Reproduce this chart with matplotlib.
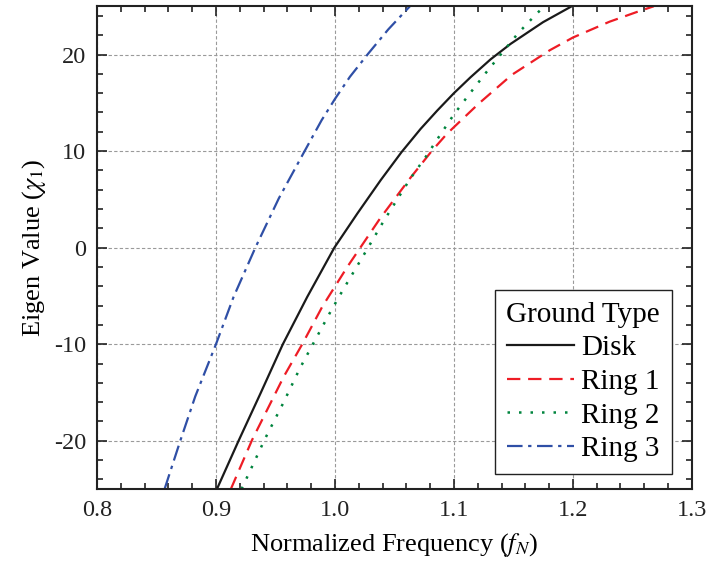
import matplotlib.pyplot as plt
from matplotlib.ticker import MultipleLocator

plt.rcParams['font.family'] = ['Liberation Serif', 'DejaVu Serif']
plt.rcParams['mathtext.fontset'] = 'stix'
plt.rcParams['axes.unicode_minus'] = False

# Valores (frequência normalizada, autovalor)
disk_f = [0.9008, 0.919, 0.9374, 0.9562, 0.9767, 0.9995, 1.0189, 1.0385, 1.056,
          1.072, 1.086, 1.100, 1.114, 1.1308, 1.1476, 1.1749, 1.199]
disk_x = [-25.0, -20.0, -15.1, -10.0, -5.1, 0.0, 3.55, 7.0, 9.9,
          12.3, 14.2, 16.0, 17.65, 19.5, 21.1, 23.35, 25.0]

ring1_f = [0.9125, 0.9304, 0.957, 0.9725, 0.9894, 1.0105, 1.038, 1.0631, 1.0813,
           1.0942, 1.1207, 1.1487, 1.1805, 1.200, 1.2308, 1.2536, 1.268]
ring1_x = [-25.0, -19.9, -13.35, -10.0, -6.1, -1.97, 3.04, 7.18, 10.0,
           11.8, 14.9, 17.9, 20.44, 21.76, 23.4, 24.4, 25.0]

ring2_f = [0.9215, 0.9416, 0.9565, 0.9705, 0.981, 0.9964, 1.0071, 1.024, 1.0407, 1.052,
           1.0634, 1.0763, 1.0883, 1.100, 1.1134, 1.1268, 1.140, 1.1539, 1.1693, 1.176]
ring2_x = [-25.0, -19.7, -16.1, -12.5, -10.1, -6.6, -4.3, -0.8, 2.7, 4.93,
           7.16, 9.4, 11.65, 13.8, 15.97, 18.1, 20.1, 22.2, 24.2, 25.0]

ring3_f = [0.8568, 0.870, 0.8826, 0.900, 0.9148, 0.9331, 0.9528, 0.9745, 0.9888,
           1.000, 1.0126, 1.028, 1.0448, 1.063]
ring3_x = [-25.0, -20.0, -15.4, -10.0, -5.1, 0.0, 5.1, 10.0, 13.2,
           15.4, 17.7, 20.1, 22.6, 25.0]

fig = plt.figure(figsize=(7.06, 5.68), dpi=100)
ax = fig.add_axes([0.1374, 0.139, 0.8426, 0.850])

ax.plot(disk_f, disk_x, color='#1a1a1a', lw=1.6, ls='-', label='Disk')
ax.plot(ring1_f, ring1_x, color='#ee1c25', lw=1.6, ls=(0, (6, 3.5)), label='Ring 1')
ax.plot(ring2_f, ring2_x, color='#00843d', lw=1.8, ls=(0, (1, 3.6)), label='Ring 2')
ax.plot(ring3_f, ring3_x, color='#2f4fa6', lw=1.6, ls=(0, (7, 2.5, 1.5, 2.5)), label='Ring 3')

ax.set_xlim(0.8, 1.3)
ax.set_ylim(-25, 25)
ax.xaxis.set_major_locator(MultipleLocator(0.1))
ax.xaxis.set_minor_locator(MultipleLocator(0.02))
ax.yaxis.set_major_locator(MultipleLocator(10))
ax.yaxis.set_minor_locator(MultipleLocator(2))
ax.set_xticks([0.8, 0.9, 1.0, 1.1, 1.2, 1.3])
ax.set_xticklabels(['0.8', '0.9', '1.0', '1.1', '1.2', '1.3'])

ax.tick_params(which='both', direction='in', top=True, right=True, labelsize=17.5,
               width=1.2, colors='#222222')
ax.tick_params(which='major', length=7, pad=8)
ax.tick_params(which='minor', length=4)
for s in ax.spines.values():
    s.set_linewidth(1.5)
    s.set_color('#222222')

ax.grid(True, which='major', color='#9a9a9a', ls=(0, (3, 2)), lw=0.8)
ax.set_axisbelow(True)

ax.set_xlabel('Normalized Frequency ($f_N$)', fontsize=19, labelpad=7)
ax.set_ylabel('Eigen Value ($\\chi_1$)', fontsize=19, labelpad=4)

leg = ax.legend(title='Ground Type', loc='lower right', bbox_to_anchor=(0.966, 0.031),
                borderaxespad=0, fontsize=21, title_fontsize=21, fancybox=False,
                edgecolor='#222222', framealpha=1, handlelength=2.3,
                handletextpad=0.25, labelspacing=0.25, borderpad=0.4)
leg.get_frame().set_linewidth(1.0)

fig.savefig('out.png', dpi=100)
